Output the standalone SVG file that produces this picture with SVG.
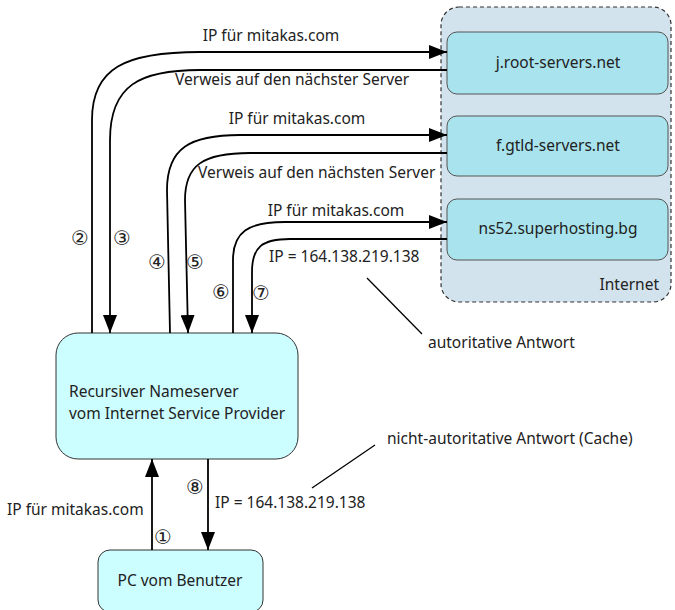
<svg xmlns="http://www.w3.org/2000/svg" width="675" height="610" viewBox="0 0 675 610">
<defs>
<style>
text{font-family:"Noto Sans","Open Sans","DejaVu Sans",sans-serif;font-size:15.5px;fill:#222}
.num{font-family:"DejaVu Sans",sans-serif;font-size:20px}
.srv{fill:#a9e4ee;stroke:#555;stroke-width:1}
.node{fill:#ccfdff;stroke:#333;stroke-width:1}
.con{fill:none;stroke:#000;stroke-width:1.8}
.ann{fill:none;stroke:#000;stroke-width:1.3}
</style>
<marker id="ah" markerUnits="userSpaceOnUse" markerWidth="18" markerHeight="14" refX="18" refY="7" orient="auto">
<path d="M0,0 L18,7 L0,14 z" fill="#000"/>
</marker>
</defs>
<g id="internet">
<rect x="441" y="7" width="230" height="295" rx="18" fill="#d3e3ee" stroke="#333" stroke-width="1.2" stroke-dasharray="4,3"/>
<text x="659" y="290" text-anchor="end">Internet</text>
</g>
<g id="root">
<rect class="srv" x="447" y="32" width="221" height="62" rx="10"/>
<text x="558" y="68" text-anchor="middle">j.root-servers.net</text>
</g>
<g id="gtld">
<rect class="srv" x="447" y="116" width="221" height="60" rx="10"/>
<text x="558" y="151" text-anchor="middle">f.gtld-servers.net</text>
</g>
<g id="ns52">
<rect class="srv" x="447" y="199" width="221" height="61" rx="10"/>
<text x="558" y="234" text-anchor="middle">ns52.superhosting.bg</text>
</g>
<g id="rns">
<rect class="node" x="56" y="333" width="242" height="126" rx="22"/>
<text x="69" y="397">Recursiver Nameserver</text>
<text x="69" y="419">vom Internet Service Provider</text>
</g>
<g id="pc">
<rect class="node" x="98" y="550" width="165" height="62" rx="12"/>
<text x="180" y="586" text-anchor="middle">PC vom Benutzer</text>
</g>
<g id="connectors">
<path class="con" d="M92,333 L92,120 C92,68 125,52 200,52 L447,52" marker-end="url(#ah)"/>
<path class="con" d="M447,70 L200,70 C140,70 110,85 110,140 L110,333" marker-end="url(#ah)"/>
<path class="con" d="M170,333 L167,190 C167,148 190,135 240,135 L447,135" marker-end="url(#ah)"/>
<path class="con" d="M447,153 L250,153 C203,153 185,165 185,200 L188,333" marker-end="url(#ah)"/>
<path class="con" d="M233,333 L233,260 C233,232 248,222 285,222 L447,222" marker-end="url(#ah)"/>
<path class="con" d="M447,239 L290,239 C262,239 252,247 252,272 L252,333" marker-end="url(#ah)"/>
<path class="con" d="M152,550 L152,459" marker-end="url(#ah)"/>
<path class="con" d="M208,459 L208,550" marker-end="url(#ah)"/>
<path class="ann" d="M367,278 L422,334"/>
<path class="ann" d="M312,488 L375,445"/>
</g>
<g id="labels">
<text x="271" y="41" text-anchor="middle">IP für mitakas.com</text>
<text x="175" y="85">Verweis auf den nächster Server</text>
<text x="297" y="124" text-anchor="middle">IP für mitakas.com</text>
<text x="198" y="178">Verweis auf den nächsten Server</text>
<text x="336" y="216" text-anchor="middle">IP für mitakas.com</text>
<text x="269" y="262">IP = 164.138.219.138</text>
<text x="428" y="348">autoritative Antwort</text>
<text x="387" y="444">nicht-autoritative Antwort (Cache)</text>
<text x="7" y="515">IP für mitakas.com</text>
<text x="215" y="508">IP = 164.138.219.138</text>
<text class="num" x="80" y="245" text-anchor="middle">②</text>
<text class="num" x="122" y="245" text-anchor="middle">③</text>
<text class="num" x="157" y="269" text-anchor="middle">④</text>
<text class="num" x="195" y="269" text-anchor="middle">⑤</text>
<text class="num" x="221" y="299" text-anchor="middle">⑥</text>
<text class="num" x="261" y="300" text-anchor="middle">⑦</text>
<text class="num" x="163" y="544" text-anchor="middle">①</text>
<text class="num" x="195" y="494" text-anchor="middle">⑧</text>
</g>
</svg>
